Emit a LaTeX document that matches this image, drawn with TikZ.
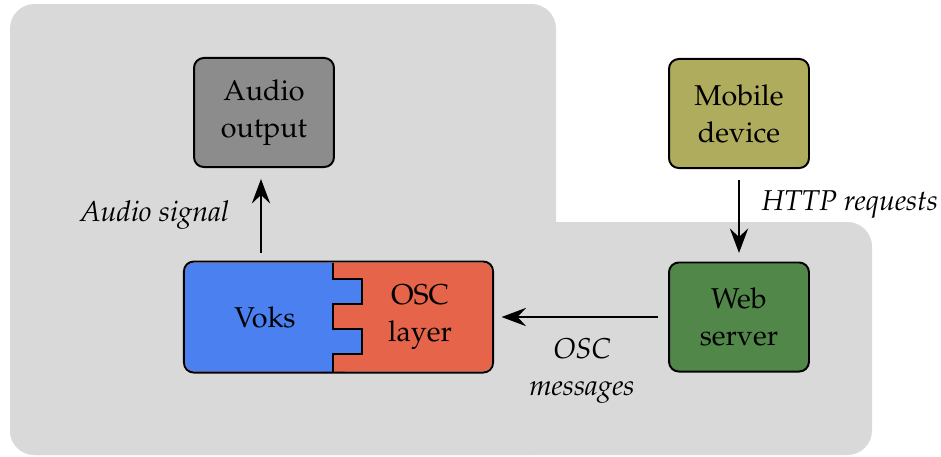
\documentclass[tikz,border=0pt]{standalone}
\usepackage[T1]{fontenc}
\usepackage{mathpazo}
\usetikzlibrary{arrows.meta}
\definecolor{bggray}{HTML}{D9D9D9}
\definecolor{audiogray}{HTML}{8C8C8C}
\definecolor{mobileolive}{HTML}{B0AC5E}
\definecolor{webgreen}{HTML}{52874A}
\definecolor{voksblue}{HTML}{4A80EF}
\definecolor{oscred}{HTML}{E5644A}
\tikzset{
  txt/.style={font=\fontsize{11.7}{15.1}\selectfont, align=center, inner sep=0pt},
  lbl/.style={font=\fontsize{11.7}{15.1}\selectfont\itshape, align=center, inner sep=0pt},
  box/.style={draw=black, line width=0.8pt, rounded corners=4pt, minimum width=57.1pt, minimum height=44.5pt, align=center, inner sep=0pt, font=\fontsize{11.7}{15.1}\selectfont},
  flow/.style={draw=black, line width=0.6pt, -{Stealth[length=10pt,width=7.5pt,inset=3.5pt]}}
}
\begin{document}
\begin{tikzpicture}[x=0.408pt,y=-0.408pt]
\useasboundingbox (0,0) rectangle (941,456);
% background
\fill[bggray, rounded corners=10pt] (10,4) rectangle (556,455);
\fill[bggray, rounded corners=10pt] (10,222) rectangle (872,455);
% boxes
\node[box, fill=audiogray] (audio) at (264,112.5) {Audio\\output};
\node[box, fill=mobileolive] (mobile) at (739,113.5) {Mobile\\device};
\node[box, fill=webgreen] (web) at (739,317) {Web\\server};
\node[box, draw=none, fill=oscred, minimum width=125.3pt] (core) at (338.5,317) {};
% blue Voks part with tabs
\fill[voksblue, rounded corners=4pt] (185,262.5) rectangle (340,371.5);
\fill[voksblue] (325,262.5) rectangle (333,371.5);
\fill[oscred] (333,262.5) rectangle (345,371.5);
\fill[voksblue] (333,279) rectangle (362,304);
\fill[voksblue] (333,329) rectangle (362,354);
\draw[line width=0.6pt] (333,262.5) -- (333,279) -- (362,279) -- (362,304) -- (333,304) -- (333,329) -- (362,329) -- (362,354) -- (333,354) -- (333,371.5);
\draw[line width=0.8pt, rounded corners=4pt] (core.north west) rectangle (core.south east);
\node[txt] (voks) at (265,317) {Voks};
\node[txt] (osc) at (420,317) {OSC\\layer};
% arrows
\coordinate (sigstart) at (261,253);
\draw[flow] (sigstart) -- ([yshift=-4.5pt]audio.south -| sigstart);
\draw[flow] ([yshift=-4.5pt]mobile.south) -- ([yshift=3.5pt]web.north);
\draw[flow] ([xshift=-4pt]web.west) -- ([xshift=3.5pt]core.east);
% labels
\node[lbl, anchor=base] (siglbl) at (154.5,221) {Audio signal};
\node[lbl, anchor=base] (httplbl) at (850,210) {HTTP requests};
\node[lbl] (osclbl) at (582,371) {OSC\\messages};
\end{tikzpicture}
\end{document}
